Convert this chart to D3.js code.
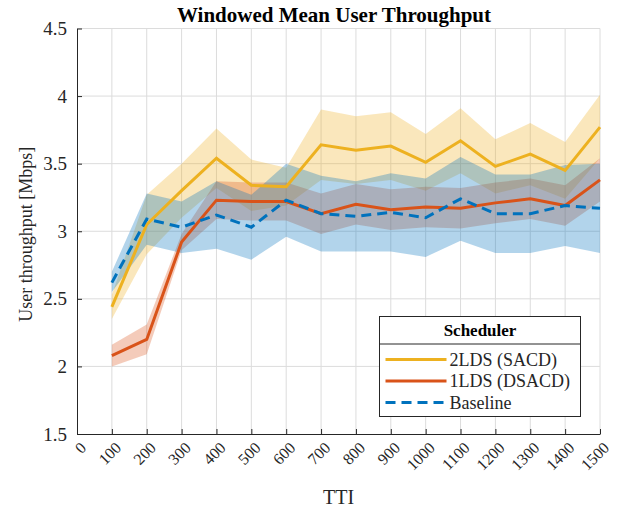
<!DOCTYPE html>
<html>
<head>
    <meta charset="utf-8">
    <title>Windowed Mean User Throughput</title>
    <script src="https://d3js.org/d3.v7.min.js"></script>
    <style>
        html, body {
            margin: 0;
            background: white;
        }
        text {
            font-family: "Liberation Serif", "Times New Roman", serif;
            fill: #262626;
        }
    </style>
</head>
<body>
    <svg id="svg"></svg>
    <script>
        const tti = [100, 200, 300, 400, 500, 600, 700, 800, 900, 1000, 1100, 1200, 1300, 1400, 1500];

        const sacd   = [2.44, 3.05, 3.30, 3.54, 3.34, 3.33, 3.64, 3.60, 3.63, 3.51, 3.67, 3.48, 3.57, 3.45, 3.77];
        const sacdLo = [2.35, 2.83, 3.10, 3.32, 3.15, 3.19, 3.38, 3.35, 3.38, 3.30, 3.43, 3.28, 3.34, 3.24, 3.54];
        const sacdHi = [2.53, 3.27, 3.50, 3.76, 3.53, 3.47, 3.90, 3.85, 3.88, 3.72, 3.91, 3.68, 3.80, 3.66, 4.01];

        const dsacd   = [2.08, 2.20, 2.92, 3.23, 3.22, 3.22, 3.13, 3.20, 3.16, 3.18, 3.17, 3.21, 3.24, 3.19, 3.38];
        const dsacdLo = [2.00, 2.09, 2.86, 3.09, 3.08, 3.08, 2.98, 3.05, 3.01, 3.03, 3.02, 3.06, 3.09, 3.04, 3.22];
        const dsacdHi = [2.16, 2.31, 2.98, 3.37, 3.36, 3.36, 3.28, 3.35, 3.31, 3.33, 3.32, 3.36, 3.39, 3.34, 3.54];

        const base   = [2.62, 3.09, 3.03, 3.12, 3.03, 3.23, 3.13, 3.11, 3.14, 3.10, 3.24, 3.13, 3.13, 3.19, 3.17];
        const baseLo = [2.55, 2.90, 2.84, 2.87, 2.79, 2.96, 2.85, 2.85, 2.85, 2.81, 2.93, 2.84, 2.84, 2.89, 2.84];
        const baseHi = [2.70, 3.28, 3.22, 3.37, 3.27, 3.50, 3.41, 3.37, 3.43, 3.39, 3.55, 3.42, 3.42, 3.49, 3.50];

        const xTicks = [0, 100, 200, 300, 400, 500, 600, 700, 800, 900, 1000, 1100, 1200, 1300, 1400, 1500];
        const yTicks = [1.5, 2, 2.5, 3, 3.5, 4, 4.5];

        const seriesNames = ["2LDS (SACD)", "1LDS (DSACD)", "Baseline"];

        const width = 626, height = 512;
        const margins = { top: 28.5, left: 77, right: 26, bottom: 78 };
        const graphWidth = width - margins.left - margins.right;
        const graphHeight = height - margins.top - margins.bottom;

        const svg = d3.select("#svg")
            .attr("width", width)
            .attr("height", height);

        const scaleX = d3.scaleLinear().domain([0, 1500]).range([0, graphWidth]);
        const scaleY = d3.scaleLinear().domain([1.5, 4.5]).range([graphHeight, 0]);

        const g = svg.append("g")
            .attr("transform", `translate(${margins.left}, ${margins.top})`);

        // grid
        g.append("g").selectAll("line")
            .data(xTicks.slice(1))
            .enter().append("line")
            .attr("x1", d => scaleX(d)).attr("x2", d => scaleX(d))
            .attr("y1", 0).attr("y2", graphHeight)
            .attr("stroke", "#dcdcdc").attr("stroke-width", 1);

        g.append("g").selectAll("line")
            .data(yTicks.slice(1))
            .enter().append("line")
            .attr("x1", 0).attr("x2", graphWidth)
            .attr("y1", d => scaleY(d)).attr("y2", d => scaleY(d))
            .attr("stroke", "#dcdcdc").attr("stroke-width", 1);

        const series = [
            { name: seriesNames[0], mean: sacd, lo: sacdLo, hi: sacdHi, color: "#EDB120", dash: null },
            { name: seriesNames[1], mean: dsacd, lo: dsacdLo, hi: dsacdHi, color: "#D95319", dash: null },
            { name: seriesNames[2], mean: base, lo: baseLo, hi: baseHi, color: "#0072BD", dash: "10,6" }
        ];

        const area = d3.area()
            .x((d, i) => scaleX(tti[i]))
            .y0(d => scaleY(d[0]))
            .y1(d => scaleY(d[1]));

        const line = d3.line()
            .x((d, i) => scaleX(tti[i]))
            .y(d => scaleY(d));

        g.append("g").selectAll("path")
            .data(series)
            .enter().append("path")
            .attr("d", s => area(s.lo.map((v, i) => [v, s.hi[i]])))
            .attr("fill", s => s.color)
            .attr("fill-opacity", 0.3)
            .attr("stroke", "none");

        g.append("g").selectAll("path")
            .data(series)
            .enter().append("path")
            .attr("d", s => line(s.mean))
            .attr("fill", "none")
            .attr("stroke", s => s.color)
            .attr("stroke-width", 3)
            .attr("stroke-dasharray", s => s.dash);

        // axes
        const xAxis = g.append("g")
            .attr("transform", `translate(0, ${graphHeight})`)
            .call(d3.axisBottom(scaleX).tickValues(xTicks).tickFormat(d3.format("d")).tickSize(-5).tickSizeOuter(0));

        xAxis.selectAll("text")
            .attr("font-size", 16)
            .attr("text-anchor", "end")
            .attr("x", 0).attr("y", 0)
            .attr("dx", 0).attr("dy", "0.33em")
            .attr("transform", "translate(6, 11) rotate(-45)");

        const yAxis = g.append("g")
            .call(d3.axisLeft(scaleY).tickValues(yTicks).tickFormat(d3.format("")).tickSize(-5).tickSizeOuter(0).tickPadding(10));

        yAxis.selectAll("text").attr("font-size", 19);

        [xAxis, yAxis].forEach(a => {
            a.select(".domain").attr("stroke", "#262626");
            a.selectAll(".tick line").attr("stroke", "#262626");
            a.selectAll("text").style("font-family", "'Liberation Serif', serif").style("fill", "#262626");
        });

        // labels
        svg.append("text")
            .attr("x", 334)
            .attr("y", 22)
            .attr("text-anchor", "middle")
            .attr("font-size", 21)
            .attr("font-weight", "bold")
            .style("fill", "#000")
            .text("Windowed Mean User Throughput");

        svg.append("text")
            .attr("x", margins.left + graphWidth / 2)
            .attr("y", 504)
            .attr("text-anchor", "middle")
            .attr("font-size", 20)
            .text("TTI");

        svg.append("text")
            .attr("transform", `translate(32, ${margins.top + graphHeight / 2 + 3}) rotate(-90)`)
            .attr("text-anchor", "middle")
            .attr("font-size", 18)
            .text("User throughput [Mbps]");

        // legend
        const legend = svg.append("g").attr("transform", "translate(379.5, 316.5)");
        legend.append("rect")
            .attr("width", 201).attr("height", 100)
            .attr("fill", "white").attr("stroke", "#262626").attr("stroke-width", 1);
        legend.append("line")
            .attr("x1", 0).attr("x2", 201).attr("y1", 27.5).attr("y2", 27.5)
            .attr("stroke", "#262626").attr("stroke-width", 1);
        legend.append("text")
            .attr("x", 100.5).attr("y", 19)
            .attr("text-anchor", "middle")
            .attr("font-size", 17).attr("font-weight", "bold")
            .style("fill", "#000")
            .text("Scheduler");

        const items = legend.selectAll("g.item")
            .data(series)
            .enter().append("g")
            .attr("class", "item")
            .attr("transform", (d, i) => `translate(0, ${43 + i * 21.5})`);

        items.append("line")
            .attr("x1", 6).attr("x2", 67)
            .attr("stroke", d => d.color)
            .attr("stroke-width", 3)
            .attr("stroke-dasharray", d => d.dash);

        items.append("text")
            .attr("x", 70).attr("y", 6)
            .attr("font-size", 18)
            .text(d => d.name);
    </script>
</body>
</html>
